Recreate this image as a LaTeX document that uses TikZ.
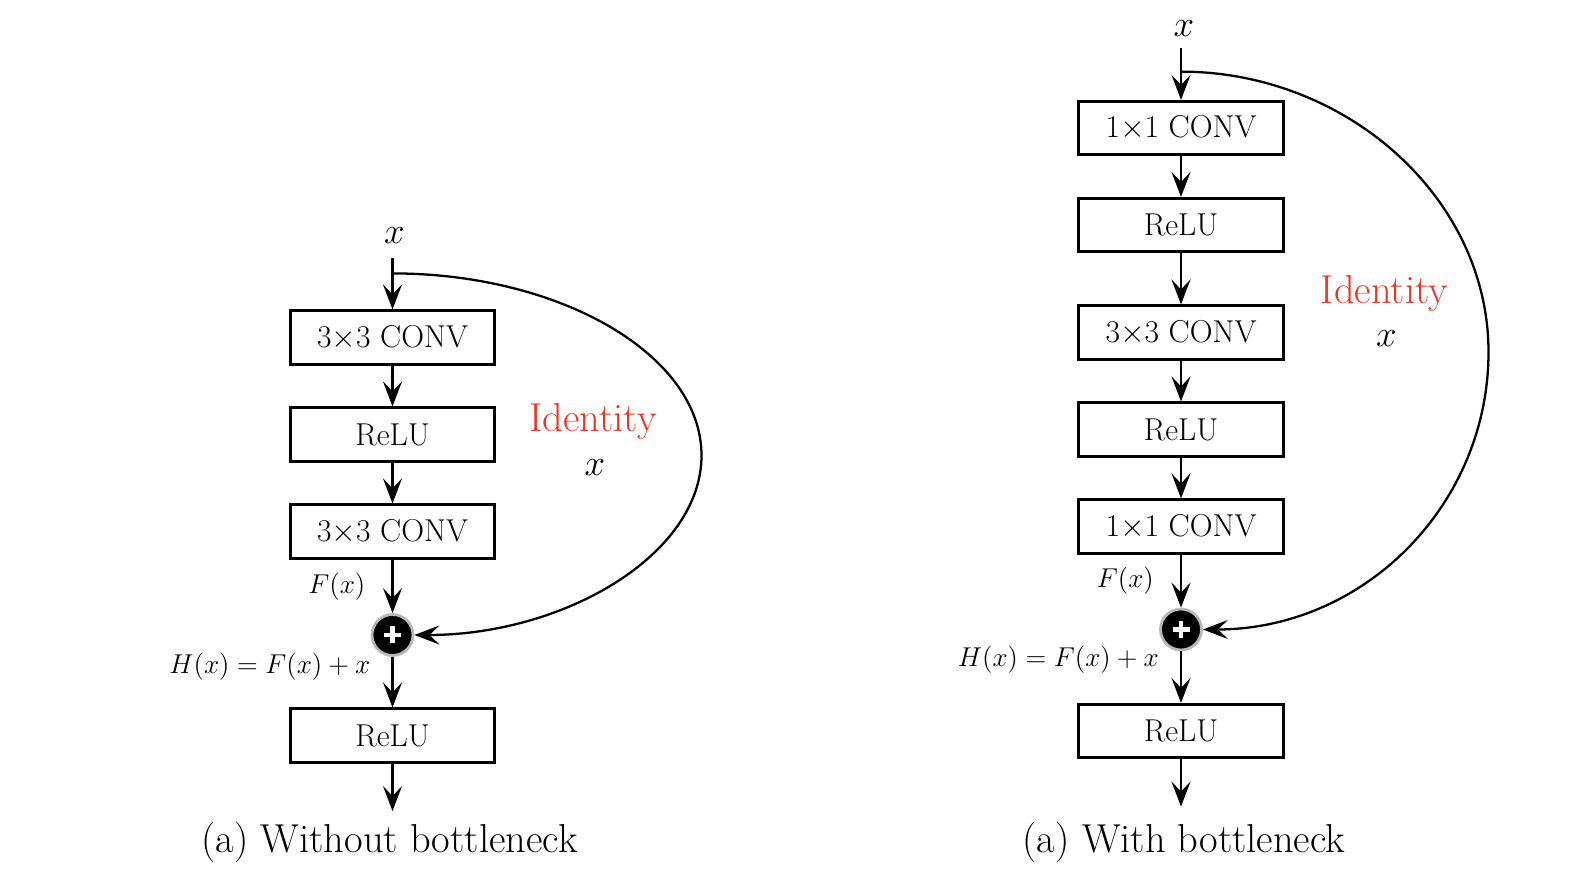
\RequirePackage{fix-cm}
\documentclass[tikz,border=0pt]{standalone}
\usepackage{amsmath}
\usepackage{fontspec}
\usepackage{tikz}
\usetikzlibrary{calc, positioning, arrows.meta}
\definecolor{idred}{RGB}{237,52,36}

\begin{document}
\begin{tikzpicture}[node distance=1.94cm,
        >={Stealth[length=5mm, width=3.8mm, inset=2mm]},
        block/.style={rectangle, draw, line width=1.5pt, minimum width=4.09cm, minimum height=1.07cm, font=\fontsize{18}{21}\selectfont},
        sumnode/.style={circle, fill=black, draw=gray!55, line width=1.6pt, minimum size=0.82cm, inner sep=0pt,
            path picture={\draw[white, line width=2.6pt] (path picture bounding box.center) ++(-0.17,0) -- ++(0.34,0) ++(-0.17,-0.17) -- ++(0,0.34);}},
        flow/.style={->, line width=1.5pt},
        lbl/.style={font=\fontsize{15.5}{18}\selectfont},
        big/.style={font=\fontsize{21}{25}\selectfont},
        bigger/.style={font=\fontsize{23}{27}\selectfont}]
        \useasboundingbox (0,0) rectangle (31.74,-17.65);

        % Nodes (without bottleneck)
        \node (inA) at (7.89,-4.72) [big] {$x$};
        \coordinate (topA) at (7.85,-5.16);
        \node (convA1) [block] at (7.85,-6.75) {3$\times$3 CONV};
        \node (reluA1) [block, below of=convA1] {ReLU};
        \node (convA2) [block, below of=reluA1] {3$\times$3 CONV};
        \node (sumA) [sumnode, below of=convA2, yshift=-0.13cm] {};
        \node (reluA2) [block, below of=sumA, yshift=-0.07cm] {ReLU};
        \coordinate (outA) at ($(reluA2.south)+(0,-0.95)$);
        \coordinate (skipA) at ($(topA)!0.3!(convA1.north)$);
        \coordinate (farA) at (14.03,-9.11);
        \node (idA) at (11.86,-8.44) [bigger, text=idred] {Identity};
        \node (idxA) at (11.90,-9.35) [big] {$x$};
        \node (capA) at (7.79,-16.84) [bigger] {(a) Without bottleneck};

        % Nodes (with bottleneck)
        \node (inB) at (23.68,-0.57) [big] {$x$};
        \coordinate (topB) at (23.62,-0.97);
        \node (convB1) [block] at (23.62,-2.56) {1$\times$1 CONV};
        \node (reluB1) [block, below of=convB1] {ReLU};
        \node (convB2) [block, below of=reluB1, yshift=-0.21cm] {3$\times$3 CONV};
        \node (reluB2) [block, below of=convB2] {ReLU};
        \node (convB3) [block, below of=reluB2] {1$\times$1 CONV};
        \node (sumB) [sumnode, below of=convB3, yshift=-0.12cm] {};
        \node (reluB3) [block, below of=sumB, yshift=-0.09cm] {ReLU};
        \coordinate (outB) at ($(reluB3.south)+(0,-0.95)$);
        \coordinate (skipB) at ($(topB)!0.45!(convB1.north)$);
        \coordinate (farB) at (29.77,-7.04);
        \node (idB) at (27.69,-5.87) [bigger, text=idred] {Identity};
        \node (idxB) at (27.73,-6.78) [big] {$x$};
        \node (capB) at (23.68,-16.84) [bigger] {(a) With bottleneck};

        % Arrows
        \draw[flow] (topA) -- (convA1);
        \draw[flow] (convA1) -- (reluA1);
        \draw[flow] (reluA1) -- (convA2);
        \draw[flow] (convA2) -- (sumA) node[midway, left=0.4cm, lbl] {$F(x)$};
        \draw[flow] (sumA) -- (reluA2) node[pos=0.2, left=0.3cm, lbl] {$H(x) = F(x) + x$};
        \draw[flow] (reluA2) -- (outA);
        \draw[->, line width=1.3pt] (skipA) .. controls +(3.36,0) and +(0,2.01) .. (farA) .. controls +(0,-1.98) and +(3.0,0) .. (sumA.east);

        \draw[flow] (topB) -- (convB1);
        \draw[flow] (convB1) -- (reluB1);
        \draw[flow] (reluB1) -- (convB2);
        \draw[flow] (convB2) -- (reluB2);
        \draw[flow] (reluB2) -- (convB3);
        \draw[flow] (convB3) -- (sumB) node[midway, left=0.4cm, lbl] {$F(x)$};
        \draw[flow] (sumB) -- (reluB3) node[pos=0.17, left=0.3cm, lbl] {$H(x) = F(x) + x$};
        \draw[flow] (reluB3) -- (outB);
        \draw[->, line width=1.3pt] (skipB) .. controls +(3.31,0) and +(0,3.08) .. (farB) .. controls +(0,-3.06) and +(3.22,0) .. (sumB.east);
    \end{tikzpicture}
\end{document}
